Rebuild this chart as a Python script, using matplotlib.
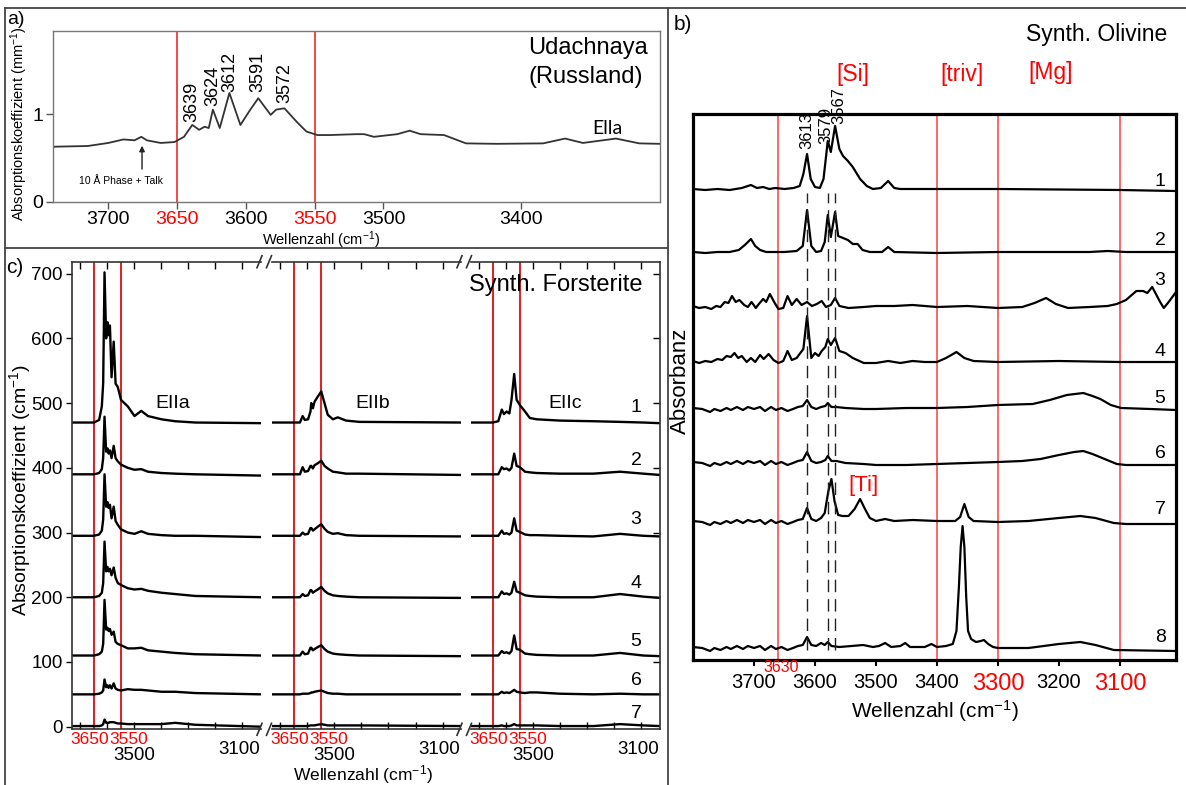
import numpy as np
import matplotlib
matplotlib.use('Agg')
import matplotlib.pyplot as plt
from matplotlib.lines import Line2D

plt.rcParams['font.family'] = ['Liberation Sans', 'DejaVu Sans']
plt.rcParams['mathtext.fontset'] = 'custom'
plt.rcParams['mathtext.rm'] = 'Liberation Sans'
plt.rcParams['mathtext.it'] = 'Liberation Sans:italic'
plt.rcParams['mathtext.bf'] = 'Liberation Sans:bold'

# ---- a) Udachnaya (Russland), absorption coefficient in mm^-1
UDA_WN = [3740, 3715, 3700, 3689, 3681, 3676, 3672, 3662, 3652, 3645, 3639, 3634, 3630, 3627,
          3624, 3619, 3612, 3604, 3597, 3591, 3582, 3578, 3572, 3563, 3556, 3548, 3539, 3520,
          3514, 3507, 3490, 3481, 3473, 3456, 3440, 3418, 3384, 3368, 3355, 3331, 3314, 3299]
UDA_ABS = [0.627, 0.635, 0.67, 0.71, 0.70, 0.74, 0.70, 0.67, 0.68, 0.74, 0.875, 0.82, 0.855, 0.84,
           1.05, 0.84, 1.24, 0.875, 1.045, 1.18, 0.99, 1.05, 1.065, 0.91, 0.80, 0.76, 0.76, 0.77,
           0.77, 0.74, 0.77, 0.81, 0.77, 0.76, 0.665, 0.66, 0.665, 0.72, 0.67, 0.72, 0.665, 0.66]
UDA_PEAKS = [3639, 3624, 3612, 3591, 3572]
UDA_TICKS = [3700, 3650, 3600, 3550, 3500, 3400]
UDA_RED = [3650, 3550]

# ---- b) synthetic olivine, (wavenumber, absorbance above baseline) per trace
OLIVINE_1 = [(3800, 0), (3780, -1), (3760, 0), (3740, -1), (3720, 1), (3705, 4), (3695, 1), (3685, 2),
             (3675, 0), (3665, 1), (3650, 0), (3635, 1), (3625, 3), (3619, 15), (3613, 35), (3607, 10),
             (3600, 2), (3592, 1), (3586, 10), (3579, 48), (3574, 37), (3567, 63), (3560, 40),
             (3554, 33), (3546, 28), (3538, 22), (3526, 10), (3515, 3), (3505, 0), (3492, 1),
             (3480, 8), (3470, 1), (3460, 0), (3300, 0), (3100, -1), (3008, -2)]
OLIVINE_2 = [(3800, 0), (3780, -1), (3760, 0), (3740, 0), (3725, 2), (3715, 7), (3705, 13), (3698, 6),
             (3690, 2), (3680, 0), (3650, 0), (3630, 1), (3620, 6), (3613, 42), (3606, 6), (3598, 0),
             (3590, 1), (3584, 10), (3579, 37), (3574, 15), (3567, 40), (3562, 16), (3554, 14),
             (3546, 12), (3538, 8), (3530, 8), (3522, 2), (3510, 0), (3490, 0), (3480, 5), (3470, 0),
             (3400, -1), (3300, 0), (3150, 0), (3120, 1), (3090, 0), (3008, 0)]
OLIVINE_3 = [(3800, 0), (3790, -2), (3780, -1), (3770, -3), (3762, 0), (3755, -1), (3748, 4), (3742, 3),
             (3736, 10), (3730, 4), (3724, 6), (3716, 1), (3710, -1), (3704, 4), (3697, -2), (3692, 2),
             (3685, 7), (3680, 4), (3674, 12), (3666, 3), (3660, -3), (3652, -2), (3645, 10), (3638, 1),
             (3630, 7), (3622, 1), (3613, 4), (3605, 0), (3597, 2), (3589, 5), (3582, -1), (3574, 1),
             (3567, 8), (3560, 0), (3545, -2), (3520, -1), (3500, 0), (3470, 0), (3440, 1), (3400, -1),
             (3350, 0), (3300, -2), (3260, -1), (3240, 3), (3221, 8), (3205, 2), (3185, -2), (3150, -1),
             (3120, 0), (3105, 2), (3090, 6), (3073, 15), (3062, 15), (3055, 13), (3047, 19), (3034, 4),
             (3028, -2), (3020, 4), (3008, 14)]
OLIVINE_4 = [(3800, 0), (3790, -2), (3780, 0), (3770, -1), (3760, 2), (3752, 1), (3745, 5), (3738, 4),
             (3732, 8), (3726, 3), (3720, 5), (3712, -1), (3705, 3), (3698, -1), (3690, 6), (3684, 2),
             (3676, 7), (3668, 1), (3660, -2), (3652, 0), (3645, 10), (3638, 1), (3630, 3), (3624, 8),
             (3619, 12), (3613, 45), (3606, 3), (3600, 8), (3594, 5), (3589, 10), (3583, 14), (3579, 22),
             (3574, 16), (3567, 23), (3560, 10), (3550, 8), (3538, 3), (3520, -2), (3500, -2),
             (3480, 0), (3460, -2), (3440, 0), (3420, -1), (3400, -1), (3385, 3), (3368, 9), (3355, 3),
             (3340, 0), (3300, -1), (3200, 0), (3100, -1), (3008, -1)]
OLIVINE_5 = [(3800, 0), (3785, -1), (3772, -4), (3765, -1), (3755, -3), (3745, 0), (3738, -2), (3728, 1),
             (3718, -2), (3710, 1), (3700, -1), (3690, 1), (3682, -3), (3672, 1), (3664, -2), (3655, 0),
             (3645, -3), (3636, -1), (3628, 1), (3620, 2), (3613, 8), (3606, 1), (3598, -1), (3590, 1),
             (3583, 2), (3579, 5), (3573, 1), (3565, 1), (3550, 0), (3520, -1), (3500, -1), (3450, 0),
             (3400, 0), (3350, 1), (3300, 3), (3243, 4), (3215, 8), (3187, 13), (3160, 15), (3145, 12),
             (3132, 9), (3115, 3), (3098, 0), (3050, -1), (3008, -2)]
OLIVINE_6 = [(3800, 0), (3785, -1), (3772, -4), (3765, -1), (3755, -3), (3745, 0), (3738, -2), (3728, 1),
             (3718, -2), (3710, 1), (3700, -1), (3690, 1), (3682, -3), (3672, 1), (3664, -2), (3655, 0),
             (3645, -3), (3636, -1), (3628, 1), (3620, 2), (3613, 10), (3606, 1), (3598, -1), (3590, 0),
             (3583, 2), (3579, 6), (3573, 1), (3565, 1), (3550, -1), (3520, -2), (3500, -3), (3450, -3),
             (3400, -2), (3350, -1), (3300, 0), (3260, 1), (3230, 3), (3200, 7), (3175, 10), (3160, 11),
             (3145, 8), (3125, 3), (3105, -2), (3090, -3), (3008, -3)]
OLIVINE_7 = [(3800, 0), (3785, -1), (3772, -4), (3765, -1), (3755, -3), (3745, 0), (3738, -2), (3728, 1),
             (3718, -2), (3710, 1), (3700, -1), (3690, 1), (3682, -3), (3672, 1), (3664, -2), (3655, 0),
             (3645, -3), (3636, -1), (3628, 1), (3620, 2), (3613, 13), (3606, 2), (3598, 0), (3590, 3),
             (3584, 8), (3578, 30), (3573, 42), (3568, 20), (3562, 6), (3555, 5), (3545, 5), (3535, 12),
             (3526, 22), (3518, 12), (3510, 3), (3500, 0), (3485, 2), (3470, 0), (3440, 1), (3400, 0),
             (3370, 0), (3362, 4), (3355, 17), (3348, 4), (3340, 0), (3300, -1), (3250, 0), (3200, 3),
             (3165, 5), (3140, 3), (3110, -2), (3090, -3), (3008, -3)]
OLIVINE_8 = [(3800, 0), (3785, -1), (3772, -4), (3765, -1), (3755, -3), (3745, 0), (3738, -2), (3728, 1),
             (3718, -2), (3710, 1), (3700, -1), (3690, 1), (3682, -3), (3672, 1), (3664, -2), (3655, 0),
             (3645, -3), (3636, -1), (3628, 1), (3620, 2), (3613, 10), (3606, 2), (3598, 1), (3590, 4),
             (3584, 2), (3579, 5), (3573, 1), (3560, 0), (3540, 1), (3521, 2), (3505, 0), (3495, 1),
             (3485, 4), (3475, 0), (3460, 1), (3452, 4), (3444, 0), (3420, 0), (3409, 3), (3400, 0),
             (3385, 1), (3374, 3), (3368, 16), (3364, 60), (3361, 100), (3358, 121), (3355, 100),
             (3352, 50), (3349, 16), (3344, 8), (3336, 5), (3328, 6), (3323, 7), (3316, 3), (3308, 0),
             (3300, -1), (3250, -1), (3200, 3), (3165, 5), (3140, 2), (3110, -3), (3008, -4)]
OLIVINE_OFFSETS = [471, 408, 354, 299, 252, 198, 139, 13]
OLIVINE_PEAKS = [3613, 3579, 3567]
OLIVINE_LINES = [3660, 3400, 3300, 3100]
OLIVINE_TICKS = [3700, 3600, 3500, 3400, 3300, 3200, 3100]
OLIVINE_RED_TICKS = [3300, 3100]

# ---- c) synthetic forsterite, absorption coefficient in cm^-1, three polarisations
EIIA_WN = [3730, 3650, 3631, 3621, 3616, 3611, 3605, 3600, 3596, 3591, 3585, 3577, 3570, 3562,
           3550, 3525, 3500, 3475, 3450, 3400, 3350, 3275, 3030]
EIIA_1 = [470, 470, 474, 495, 531, 702, 600, 625, 605, 620, 540, 595, 530, 525, 505, 495, 480, 488, 480, 475, 472, 470, 469]
EIIA_2 = [390, 390, 392, 398, 415, 479, 425, 430, 422, 427, 415, 434, 415, 410, 405, 400, 397, 398, 394, 392, 391, 390, 388]
EIIA_3 = [295, 295, 297, 303, 320, 390, 340, 347, 338, 343, 322, 340, 318, 312, 305, 300, 298, 302, 298, 296, 295, 295, 293]
EIIA_4 = [200, 200, 202, 207, 222, 286, 240, 247, 240, 244, 234, 246, 230, 222, 219, 214, 212, 213, 210, 207, 205, 202, 200]
EIIA_5 = [110, 110, 112, 116, 128, 196, 150, 153, 148, 151, 142, 147, 131, 128, 126, 121, 121, 122, 118, 116, 114, 112, 110]
EIIA_6 = [50, 50, 51, 53, 56, 73, 61, 64, 60, 64, 59, 67, 59, 57, 56, 58, 57, 57, 56, 54, 54, 52, 50]
EIIA_7 = [1, 1, 1, 2, 4, 11, 6, 6, 6, 7, 7, 7, 6, 5, 5, 4, 4, 4, 4, 4, 6, 3, 0]

EIIB_WN = [3730, 3650, 3628, 3618, 3610, 3598, 3589, 3586, 3580, 3574, 3562, 3549, 3537, 3525,
           3506, 3488, 3457, 3408, 3030]
EIIB_1 = [470, 470, 470, 480, 474, 475, 487, 500, 492, 502, 510, 518, 500, 482, 475, 478, 473, 471, 470]
EIIB_2 = [390, 390, 390, 401, 394, 395, 403, 403, 399, 404, 407, 411, 403, 399, 394, 393, 391, 391, 389]
EIIB_3 = [295, 295, 295, 300, 297, 298, 307, 307, 303, 305, 309, 313, 306, 301, 298, 299, 296, 295, 294]
EIIB_4 = [200, 200, 200, 205, 202, 203, 211, 211, 207, 209, 212, 216, 210, 206, 203, 202, 201, 200, 199]
EIIB_5 = [110, 110, 110, 116, 112, 113, 122, 122, 118, 120, 123, 126, 120, 116, 113, 112, 111, 110, 109]
EIIB_6 = [50, 50, 50, 51, 51, 51, 52, 53, 53, 54, 55, 56, 54, 52, 51, 51, 50, 50, 50]
EIIB_7 = [1, 1, 1, 1, 1, 1, 2, 2, 2, 2, 3, 4, 3, 2, 2, 2, 2, 2, 1]

EIIC_WN = [3730, 3650, 3629, 3616, 3608, 3598, 3588, 3580, 3570, 3561, 3549, 3530, 3512, 3487,
           3401, 3277, 3178, 3092, 3030]
EIIC_1 = [470, 470, 472, 490, 483, 487, 484, 505, 545, 505, 497, 487, 477, 475, 473, 472, 471, 470, 469]
EIIC_2 = [390, 390, 390, 401, 398, 399, 396, 400, 422, 403, 401, 394, 393, 392, 391, 391, 394, 391, 389]
EIIC_3 = [295, 295, 295, 303, 298, 299, 297, 300, 322, 303, 301, 297, 296, 296, 295, 294, 298, 295, 294]
EIIC_4 = [200, 200, 200, 209, 205, 206, 204, 207, 224, 209, 207, 203, 202, 201, 200, 200, 205, 201, 199]
EIIC_5 = [110, 110, 110, 117, 114, 115, 113, 117, 141, 120, 119, 113, 112, 111, 110, 110, 114, 110, 109]
EIIC_6 = [50, 50, 50, 54, 52, 53, 52, 54, 57, 54, 53, 52, 53, 53, 51, 50, 51, 50, 50]
EIIC_7 = [1, 1, 1, 2, 1, 1, 1, 2, 4, 2, 2, 2, 2, 2, 1, 1, 4, 2, 1]

FORST_RED = [3650, 3550]
FORST_TICKS = [3700, 3600, 3500, 3400, 3300, 3200, 3100]
FORST_YTICKS = [0, 100, 200, 300, 400, 500, 600, 700]
SEGMENT_NAMES = ['EIIa', 'EIIb', 'EIIc']

W, H = 1186, 785
fig = plt.figure(figsize=(W / 100, H / 100), dpi=100)


def box(l, t, r, b):
    return [l / W, 1 - b / H, (r - l) / W, (b - t) / H]


def ftext(x, y, s, **kw):
    kw.setdefault('ha', 'center')
    kw.setdefault('va', 'center')
    fig.text(x / W, 1 - y / H, s, **kw)


def fline(xs, ys, **kw):
    fig.add_artist(Line2D([x / W for x in xs], [1 - y / H for y in ys], **kw))


# panel borders
for xs, ys in [([5, 1186], [8, 8]), ([5, 5], [8, 785]), ([668, 668], [8, 785]), ([5, 668], [248, 248])]:
    fline(xs, ys, color='#444', lw=1.3)

# ---------------- a)
axa = fig.add_axes(box(53.3, 30.7, 660, 201.7))
axa.plot(UDA_WN, UDA_ABS, color='#333', lw=1.3)
for wn in UDA_RED:
    axa.axvline(wn, color='#f03a3a', lw=1.3, zorder=0)
axa.set_xlim(3740, 3299)
axa.set_ylim(0, 1.95)
axa.set_xticks(UDA_TICKS)
axa.set_xticklabels([str(t) for t in UDA_TICKS])
for lab, t in zip(axa.get_xticklabels(), UDA_TICKS):
    if t in UDA_RED:
        lab.set_color('red')
axa.set_yticks([0, 1])
axa.set_yticklabels(['0', '1'])
axa.tick_params(direction='out', length=5, width=1, color='#555', labelsize=14, pad=2)
for s in axa.spines.values():
    s.set_color('#777')
    s.set_linewidth(1)
for wn, yb in zip(UDA_PEAKS, [0.912, 1.09, 1.254, 1.254, 1.125]):
    axa.text(wn, yb, str(wn), rotation=90, ha='center', va='bottom', fontsize=13)
axa.annotate('', xy=(3675.5, 0.67), xytext=(3675.5, 0.34),
             arrowprops=dict(arrowstyle='-|>', color='#222', lw=1, mutation_scale=8))
axa.text(3691, 0.236, '10 Å Phase + Talk', fontsize=7.5, ha='center', va='center')
axa.text(3351, 1.75, 'Udachnaya', fontsize=17, ha='center', va='center')
axa.text(3353, 1.42, '(Russland)', fontsize=17, ha='center', va='center')
axa.text(3337, 0.84, 'Ella', fontsize=14, family=['Lato', 'DejaVu Sans'], ha='center', va='center')
ftext(19, 124, 'Absorptionskoeffizient (mm$^{-1}$)', rotation=90, fontsize=10.5)
ftext(321, 240, 'Wellenzahl (cm$^{-1}$)', fontsize=10.5)
ftext(16, 19, 'a)', fontsize=14)

# ---------------- b)
axb = fig.add_axes(box(693, 114, 1176, 660))
traces = [OLIVINE_1, OLIVINE_2, OLIVINE_3, OLIVINE_4, OLIVINE_5, OLIVINE_6, OLIVINE_7, OLIVINE_8]
for tr, off in zip(traces, OLIVINE_OFFSETS):
    wn, h = zip(*tr)
    axb.plot(wn, np.array(h) + off, color='k', lw=1.6)
for wn in OLIVINE_LINES:
    axb.axvline(wn, color='#ff5c5c', lw=1.3, zorder=0)
axb.vlines(OLIVINE_PEAKS, 10, 467, colors='#222', linestyles=(0, (9, 5)), lw=1)
axb.set_xlim(3800, 3008)
axb.set_ylim(0, 546)
axb.set_yticks([])
axb.set_xticks(OLIVINE_TICKS)
axb.set_xticklabels([str(t) for t in OLIVINE_TICKS])
axb.tick_params(axis='x', direction='out', length=4, width=1.5, labelsize=14.5, pad=5)
for lab, t in zip(axb.get_xticklabels(), OLIVINE_TICKS):
    if t in OLIVINE_RED_TICKS:
        lab.set_color('red')
        lab.set_fontsize(17)
for s in axb.spines.values():
    s.set_linewidth(2.3)
for i, y in enumerate([479, 420, 380, 309, 262, 207, 150, 23]):
    axb.text(3034, y, str(i + 1), fontsize=14, ha='center', va='center')
# peak labels sit slightly apart from their dashed lines, as in the figure
for pk, x, yb in zip(OLIVINE_PEAKS, [3614, 3582, 3561], [511, 516, 536]):
    axb.text(x, yb, str(pk), rotation=90, ha='center', va='bottom', fontsize=12, clip_on=False)
ftext(853, 74, '[Si]', color='red', fontsize=16.5)
ftext(962, 74, '[triv]', color='red', fontsize=16.5)
ftext(1051, 73, '[Mg]', color='red', fontsize=16.5)
ftext(864, 485, '[Ti]', color='red', fontsize=16)
ftext(1097, 34, 'Synth. Olivine', fontsize=16.5)
ftext(683, 24, 'b)', fontsize=15)
ftext(781, 667, '3630', color='red', fontsize=11.5)
ftext(680, 381, 'Absorbanz', rotation=90, fontsize=16)
ftext(935, 711, 'Wellenzahl (cm$^{-1}$)', fontsize=15)

# ---------------- c)
segments = [
    (EIIA_WN, [EIIA_1, EIIA_2, EIIA_3, EIIA_4, EIIA_5, EIIA_6, EIIA_7]),
    (EIIB_WN, [EIIB_1, EIIB_2, EIIB_3, EIIB_4, EIIB_5, EIIB_6, EIIB_7]),
    (EIIC_WN, [EIIC_1, EIIC_2, EIIC_3, EIIC_4, EIIC_5, EIIC_6, EIIC_7]),
]
seg_px = [(72.4, 261.4), (272.4, 461.4), (471, 660)]
name_x = [3357, 3357, 3382]
c_top, c_bot = 261.7, 729.3
c_h = c_bot - c_top
for k, ((grid, vals), (l, r)) in enumerate(zip(segments, seg_px)):
    ax = fig.add_axes(box(l, c_top, r, c_bot))
    for v in vals:
        ax.plot(grid, v, color='k', lw=1.7)
    for wn in FORST_RED:
        ax.axvline(wn, color='#d42a2a', lw=1.5, zorder=0)
    ax.set_xlim(3730, 3030)
    ax.set_ylim(-4, 718.5)
    ax.set_xticks(FORST_TICKS)
    ax.set_xticklabels([])
    ax.tick_params(axis='x', which='both', direction='in', length=5, width=1, top=True, bottom=True)
    for s in ax.spines.values():
        s.set_color('#333')
        s.set_linewidth(1.2)
    ax.spines['left'].set_visible(k == 0)
    ax.spines['right'].set_visible(k == 2)
    if k == 0:
        ax.set_yticks(FORST_YTICKS)
        ax.set_yticklabels([str(t) for t in FORST_YTICKS])
        ax.tick_params(axis='y', direction='out', length=4, width=1, labelsize=13.5, pad=3)
    elif k == 2:
        ax.set_yticks(FORST_YTICKS[1:])
        ax.set_yticklabels([])
        ax.tick_params(axis='y', left=False, right=True, direction='in', length=5, width=1)
    else:
        ax.set_yticks([])
    tr = ax.get_xaxis_transform()
    ax.text(3665, -(739 - c_bot) / c_h, '3650', transform=tr, color='red', fontsize=12.5, ha='center', va='center')
    ax.text(3520, -(739 - c_bot) / c_h, '3550', transform=tr, color='red', fontsize=12.5, ha='center', va='center')
    ax.text(3500, -(755 - c_bot) / c_h, '3500', transform=tr, fontsize=13.5, ha='center', va='center')
    ax.text(3112, -(749 - c_bot) / c_h, '3100', transform=tr, fontsize=13.5, ha='center', va='center')
    ax.text(name_x[k], 499, SEGMENT_NAMES[k], fontsize=14, ha='center', va='center')
    if k == 2:
        for i, y in enumerate([493, 412, 320, 222, 131, 71, 21]):
            ax.text(3119, y, str(i + 1), fontsize=14, ha='center', va='center')

# axis break marks
for xc in [259.5, 269, 459.5, 469]:
    for yc in [c_top, c_bot]:
        fline([xc - 2.5, xc + 2.5], [yc + 6, yc - 6], color='#333', lw=1.2)

ftext(556, 285, 'Synth. Forsterite', fontsize=17)
ftext(15, 268, 'c)', fontsize=15)
ftext(20, 490, 'Absorptionskoeffizient (cm$^{-1}$)', rotation=90, fontsize=14)
ftext(363, 774.5, 'Wellenzahl (cm$^{-1}$)', fontsize=12.5)

fig.savefig('out.png', dpi=100)
